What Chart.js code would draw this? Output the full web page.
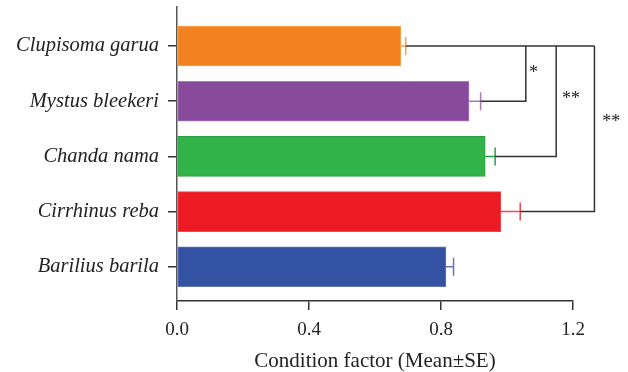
<!DOCTYPE html>
<html>
<head>
<meta charset="utf-8">
<script src="https://cdn.jsdelivr.net/npm/chart.js@4"></script>
<style>
  html, body { margin: 0; padding: 0; background: #fff; }
  #wrap { width: 628px; height: 372px; }
</style>
</head>
<body>
<div id="wrap"><canvas id="cfChart" width="628" height="372"></canvas></div>
<script>
// species (top to bottom) and condition factor values
const species = ['Clupisoma garua', 'Mystus bleekeri', 'Chanda nama', 'Cirrhinus reba', 'Barilius barila'];
const meanK = [0.678, 0.885, 0.934, 0.981, 0.815];
const seK = [0.015, 0.035, 0.030, 0.059, 0.023];
const barColors = ['#F58220', '#884A9B', '#32B34A', '#ED1C24', '#3452A4'];
const errColors = ['#F9A04A', '#A77BB8', '#2E9E45', '#F0474D', '#6577BA'];
const xTicks = [0, 0.4, 0.8, 1.2];

// significance brackets: compare species[from] with species[to]
const brackets = [
  { from: 0, to: 1, x: 1.057, label: '*', lx: 1.08, ly: 0.42 },
  { from: 0, to: 2, x: 1.149, label: '**', lx: 1.194, ly: 0.9 },
  { from: 0, to: 3, x: 1.265, label: '**', lx: 1.316, ly: 1.31 }
];

const serif = '"Liberation Serif", "DejaVu Serif", serif';

const errorBars = {
  id: 'errorBars',
  afterDatasetsDraw(chart) {
    const { ctx, scales: { x, y } } = chart;
    ctx.save();
    meanK.forEach((m, i) => {
      const x1 = x.getPixelForValue(m);
      const x2 = x.getPixelForValue(m + seK[i]);
      const py = y.getPixelForValue(i);
      ctx.strokeStyle = errColors[i];
      ctx.lineWidth = 1.5;
      ctx.beginPath();
      ctx.moveTo(x1, py);
      ctx.lineTo(x2, py);
      ctx.moveTo(x2, py - 9);
      ctx.lineTo(x2, py + 9);
      ctx.stroke();
    });

    // brackets
    ctx.strokeStyle = '#333';
    ctx.lineWidth = 1.5;
    const topY = y.getPixelForValue(0);
    const maxX = Math.max(...brackets.map(b => b.x));
    ctx.beginPath();
    ctx.moveTo(x.getPixelForValue(meanK[0] + seK[0]), topY);
    ctx.lineTo(x.getPixelForValue(maxX), topY);
    brackets.forEach(b => {
      const bx = x.getPixelForValue(b.x);
      const by = y.getPixelForValue(b.to);
      ctx.moveTo(bx, topY);
      ctx.lineTo(bx, by);
      ctx.lineTo(x.getPixelForValue(meanK[b.to] + seK[b.to]), by);
    });
    ctx.stroke();

    ctx.fillStyle = '#222';
    ctx.font = '18px ' + serif;
    ctx.textAlign = 'center';
    ctx.textBaseline = 'middle';
    brackets.forEach(b => {
      ctx.fillText(b.label, x.getPixelForValue(b.lx), y.getPixelForValue(b.ly) + 4);
    });
    ctx.restore();
  }
};

new Chart(document.getElementById('cfChart'), {
  type: 'bar',
  data: {
    datasets: [{
      data: meanK.map((v, i) => ({ x: v, y: i })),
      backgroundColor: barColors,
      borderColor: errColors,
      borderWidth: 1,
      borderSkipped: false,
      barThickness: 40
    }]
  },
  options: {
    indexAxis: 'y',
    responsive: false,
    animation: false,
    layout: { padding: { top: 7, right: 55, left: 0, bottom: 0 } },
    plugins: { legend: { display: false }, tooltip: { enabled: false } },
    scales: {
      x: {
        type: 'linear',
        min: 0,
        max: 1.2,
        afterBuildTicks: axis => { axis.ticks = xTicks.map(v => ({ value: v })); },
        afterFit: axis => { axis.height = 71; },
        grid: { drawOnChartArea: false, drawTicks: true, tickLength: 9, color: '#333', lineWidth: 1.5 },
        border: { display: true, color: '#333', width: 1.5 },
        ticks: {
          color: '#222',
          padding: 9,
          font: { family: serif, size: 19 },
          callback: v => v.toFixed(1)
        },
        title: {
          display: true,
          text: 'Condition factor (Mean±SE)',
          color: '#222',
          font: { family: serif, size: 21 },
          padding: { top: 4, bottom: -2 }
        }
      },
      y: {
        type: 'linear',
        reverse: true,
        offset: false,
        min: -0.707,
        max: 4.62,
        afterBuildTicks: axis => { axis.ticks = species.map((s, i) => ({ value: i })); },
        afterFit: axis => { axis.width = 177; axis.paddingTop = 0; axis.paddingBottom = 0; },
        grid: { offset: false, drawOnChartArea: false, drawTicks: true, tickLength: 9, color: '#333', lineWidth: 1.5 },
        border: { display: true, color: '#555', width: 1.5 },
        ticks: {
          color: '#222',
          padding: 9,
          font: { family: serif, size: 20.5, style: 'italic' },
          callback: v => species[v]
        }
      }
    }
  },
  plugins: [errorBars]
});
</script>
</body>
</html>
